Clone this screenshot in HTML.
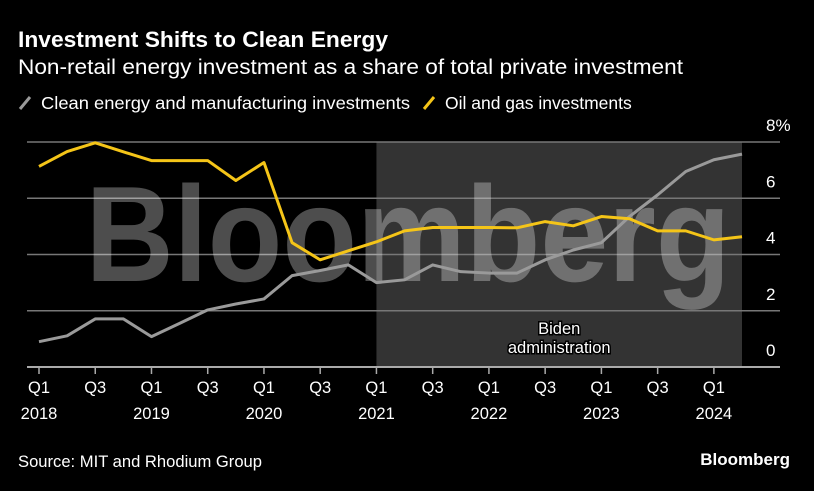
<!DOCTYPE html>
<html><head><meta charset="utf-8">
<style>
html,body{margin:0;padding:0;background:#000;}
body{width:814px;height:486px;overflow:hidden;font-family:"Liberation Sans",sans-serif;color:#fff;}
</style></head>
<body>
<svg width="814" height="486" viewBox="0 0 814 486" xmlns="http://www.w3.org/2000/svg" font-family="Liberation Sans, sans-serif">
<rect width="814" height="486" fill="#000"/>
<text x="18" y="47" font-size="22.5" font-weight="bold" fill="#fff" textLength="370" lengthAdjust="spacingAndGlyphs">Investment Shifts to Clean Energy</text>
<text x="18" y="74" font-size="21" fill="#fff" textLength="665" lengthAdjust="spacingAndGlyphs">Non-retail energy investment as a share of total private investment</text>
<g>
<line x1="20" y1="109" x2="30" y2="97" stroke="#9a9a9a" stroke-width="3"/>
<text x="41" y="109" font-size="17.5" fill="#fff" textLength="369" lengthAdjust="spacingAndGlyphs">Clean energy and manufacturing investments</text>
<line x1="424" y1="109" x2="434" y2="97" stroke="#f5c518" stroke-width="3"/>
<text x="445" y="109" font-size="17.5" fill="#fff">Oil and gas investments</text>
</g>
<g id="plot"></g>
<text x="18" y="467" font-size="16.5" fill="#fff" textLength="244" lengthAdjust="spacingAndGlyphs">Source: MIT and Rhodium Group</text>
<text x="790" y="465" font-size="17" font-weight="bold" fill="#fff" text-anchor="end">Bloomberg</text>
</svg>
<script>
const quarters = 26;
const cleanValues = [0.9,1.11,1.71,1.71,1.08,1.55,2.03,2.24,2.42,3.25,3.43,3.63,3.0,3.1,3.63,3.39,3.34,3.34,3.81,4.16,4.42,5.35,6.12,6.95,7.37,7.57];
const oilValues = [7.13,7.66,7.97,7.65,7.34,7.34,7.34,6.63,7.27,4.42,3.81,4.13,4.45,4.84,4.96,4.96,4.96,4.95,5.17,5.02,5.35,5.27,4.84,4.84,4.52,4.63];
const yTicks = [0,2,4,6,8];
const yTickLabels = ["0","2","4","6","8%"];
const xTickIdx = [0,2,4,6,8,10,12,14,16,18,20,22,24];
const xTickTop = ["Q1","Q3","Q1","Q3","Q1","Q3","Q1","Q3","Q1","Q3","Q1","Q3","Q1"];
const xTickBottom = ["2018","","2019","","2020","","2021","","2022","","2023","","2024"];
const shadeStartIdx = 12, shadeEndIdx = 25;

const NS="http://www.w3.org/2000/svg";
const g=document.getElementById('plot');
const xS=i=>39+i*(742-39)/(quarters-1);
const yS=v=>367-v*(367-142)/8;
function mk(t,a,p){const e=document.createElementNS(NS,t);for(const k in a)e.setAttribute(k,a[k]);(p||g).appendChild(e);return e;}

const sh=mk('rect',{x:xS(shadeStartIdx),y:yS(8),width:xS(shadeEndIdx)-xS(shadeStartIdx),height:yS(0)-yS(8),fill:'#333'});



yTicks.forEach((v,k)=>{
  const l=mk('line',{x1:27,x2:780,y1:yS(v),y2:yS(v),stroke:v===0?'#aaa':'#777','stroke-width':v===0?2:1.5});
  
  
  const t=mk('text',{x:766,y:yS(v)-11,'font-size':17,fill:'#fff'});
  
  
  t.textContent=yTickLabels[k];
});

const wm=mk('text',{x:408,y:281,'font-size':136,'font-weight':'bold',fill:'rgba(255,255,255,0.3)','text-anchor':'middle','textLength':645,'lengthAdjust':'spacingAndGlyphs'});


wm.textContent='Bloomberg';

const cx=(xS(shadeStartIdx)+xS(shadeEndIdx))/2;
const bl=mk('text',{x:cx,y:334,'font-size':16.5,fill:'#fff','text-anchor':'middle',stroke:'#000','stroke-width':3,'paint-order':'stroke'});


bl.innerHTML='<tspan x="'+cx+'">Biden</tspan><tspan x="'+cx+'" dy="19">administration</tspan>';

xTickIdx.forEach((i,k)=>{
  const tk=mk('line',{x1:xS(i),x2:xS(i),y1:367,y2:374,stroke:'#aaa','stroke-width':1.5});
  
  
  const t=mk('text',{x:xS(i),y:393,'font-size':16.5,fill:'#fff','text-anchor':'middle'});
  
  
  t.textContent=xTickTop[k];
  if(xTickBottom[k]){
    const t2=mk('text',{x:xS(i),y:419,'font-size':16.5,fill:'#fff','text-anchor':'middle'});
    
    
    t2.textContent=xTickBottom[k];
  }
});

function line(vals,color,name){
  const p=mk('polyline',{points:vals.map((v,i)=>xS(i)+','+yS(v)).join(' '),fill:'none',stroke:color,'stroke-width':3,'stroke-linejoin':'round'});
  
  
}
line(cleanValues,'#9a9a9a','clean-energy-line');
line(oilValues,'#f5c518','oil-gas-line');
</script>
</body></html>
